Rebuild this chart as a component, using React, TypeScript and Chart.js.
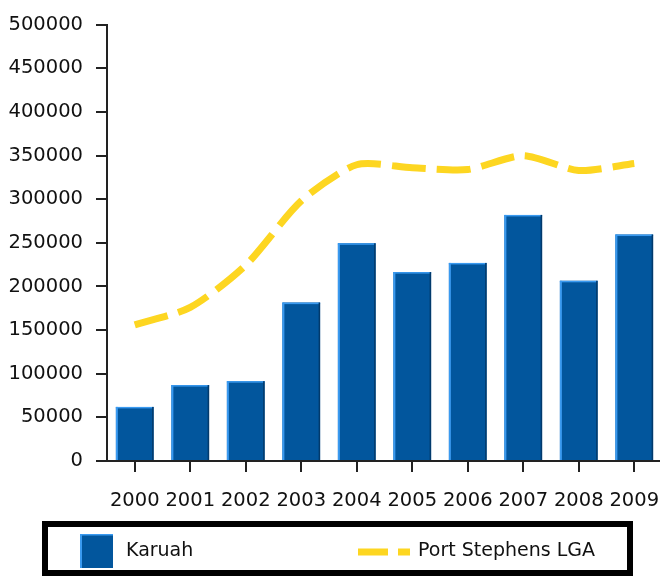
import React, { useEffect, useRef } from 'react';
import { Chart, registerables } from 'chart.js';

Chart.register(...registerables);

const years = ['2000', '2001', '2002', '2003', '2004', '2005', '2006', '2007', '2008', '2009'];
const karuah = [62000, 87000, 91500, 181500, 249500, 216500, 227000, 282000, 206500, 259500];
const portStephens = [156000, 176000, 224500, 298000, 339500, 336000, 334000, 350000, 333000, 341000];
const yMax = 500000;
const yStep = 50000;

const barColor = '#02569d';
const barLight = '#3a9af0';
const barDark = '#023a6c';
const lineColor = '#fdd621';
const textColor = '#111111';
const axisColor = '#222222';
const font = { family: '"DejaVu Sans", Verdana, sans-serif', size: 19.5 };

export default function App() {
  const ref = useRef<HTMLCanvasElement>(null);

  useEffect(() => {
    if (!ref.current) return;

    const barEdgePlugin = {
      id: 'barEdges',
      afterDatasetDraw(chart: any, args: any) {
        const meta = chart.getDatasetMeta(args.index);
        if (meta.type !== 'bar') return;
        const ctx = chart.ctx as CanvasRenderingContext2D;
        ctx.save();
        meta.data.forEach((el: any) => {
          const { x, y, base, width } = el.getProps(['x', 'y', 'base', 'width'], true);
          const l = x - width / 2;
          const r = x + width / 2;
          ctx.fillStyle = barLight;
          ctx.fillRect(l, y, 2, base - y);
          ctx.fillRect(l, y, width, 1.5);
          ctx.fillStyle = barDark;
          ctx.fillRect(r - 1.5, y, 1.5, base - y);
        });
        ctx.restore();
      },
    };

    const legendPlugin = {
      id: 'boxLegend',
      afterDraw(chart: any) {
        const ctx = chart.ctx as CanvasRenderingContext2D;
        const ds = chart.data.datasets;
        ctx.save();
        ctx.lineWidth = 6;
        ctx.strokeStyle = '#000000';
        ctx.setLineDash([]);
        ctx.strokeRect(45, 524, 585, 49);
        ctx.font = `19px ${font.family}`;
        ctx.textBaseline = 'middle';
        ctx.textAlign = 'left';
        // Karuah
        ctx.fillStyle = barColor;
        ctx.fillRect(80, 534, 33, 34);
        ctx.fillStyle = barLight;
        ctx.fillRect(80, 534, 2, 34);
        ctx.fillRect(80, 534, 33, 1.5);
        ctx.fillStyle = textColor;
        ctx.fillText(ds[1].label, 126, 551);
        // Port Stephens LGA
        ctx.strokeStyle = lineColor;
        ctx.lineWidth = 7;
        ctx.setLineDash([30, 10]);
        ctx.beginPath();
        ctx.moveTo(358, 552);
        ctx.lineTo(410, 552);
        ctx.stroke();
        ctx.setLineDash([]);
        ctx.fillStyle = textColor;
        ctx.fillText(ds[0].label, 418, 551);
        ctx.restore();
      },
    };

    const chart = new Chart(ref.current, {
      type: 'bar',
      data: {
        labels: years,
        datasets: [
          {
            type: 'line',
            label: 'Port Stephens LGA',
            data: portStephens,
            borderColor: lineColor,
            backgroundColor: lineColor,
            borderWidth: 7,
            borderDash: [34, 11],
            pointRadius: 0,
            tension: 0.25,
            fill: false,
            order: 0,
          } as any,
          {
            type: 'bar',
            label: 'Karuah',
            data: karuah,
            backgroundColor: barColor,
            borderWidth: 0,
            barPercentage: 0.68,
            categoryPercentage: 1,
            order: 1,
          },
        ],
      },
      options: {
        responsive: false,
        animation: false,
        devicePixelRatio: 1,
        layout: { padding: { top: 18, right: 0, left: 0, bottom: 0 } },
        plugins: {
          legend: { display: false },
          tooltip: { enabled: false },
          title: { display: false },
        },
        scales: {
          x: {
            type: 'category',
            offset: true,
            grid: {
              offset: false,
              drawOnChartArea: false,
              drawTicks: true,
              tickLength: 11,
              color: axisColor,
              lineWidth: 2,
            },
            border: { display: true, color: axisColor, width: 2 },
            ticks: {
              font,
              color: textColor,
              padding: 17,
              autoSkip: false,
              maxRotation: 0,
              minRotation: 0,
            },
            afterFit(scale: any) {
              scale.height = 115;
              scale.paddingLeft = 0;
              scale.paddingRight = 0;
            },
          },
          y: {
            min: 0,
            max: yMax,
            grid: {
              drawOnChartArea: false,
              drawTicks: true,
              tickLength: 11,
              color: axisColor,
              lineWidth: 2,
            },
            border: { display: true, color: axisColor, width: 2 },
            ticks: {
              stepSize: yStep,
              font,
              color: textColor,
              padding: 13,
              callback: (v: any) => String(v),
            },
            afterFit(scale: any) {
              scale.width = 107;
            },
          },
        },
      },
      plugins: [barEdgePlugin, legendPlugin],
    });
    return () => chart.destroy();
  }, []);

  return (
    <div style={{ position: 'absolute', left: 0, top: 0, width: 660, height: 576, overflow: 'hidden', background: '#fff' }}>
      <canvas ref={ref} width={662} height={576} style={{ display: 'block', width: 662, height: 576 }} />
    </div>
  );
}
